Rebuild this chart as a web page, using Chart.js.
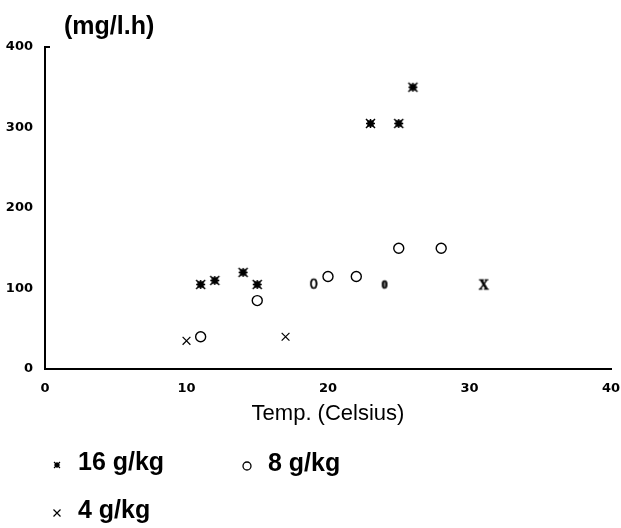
<!DOCTYPE html>
<html>
<head>
<meta charset="utf-8">
<script src="https://cdn.jsdelivr.net/npm/chart.js@4.4.1/dist/chart.umd.min.js"></script>
<style>
  html, body { margin: 0; padding: 0; background: #fff; }
  #wrap { position: relative; width: 621px; height: 528px; }
</style>
</head>
<body>
<div id="wrap"><canvas id="chart"></canvas></div>
<script>
// Rate (mg/l.h) against temperature, one series per moisture level.
const series16 = [
    { x: 11, y: 105 }, { x: 12, y: 110 }, { x: 14, y: 120 }, { x: 15, y: 105 },
    { x: 23, y: 305 }, { x: 25, y: 305 }, { x: 26, y: 350 },
];
const series8 = [
    { x: 11, y: 40 }, { x: 15, y: 85 }, { x: 20, y: 115 },
    { x: 22, y: 115 }, { x: 25, y: 150 }, { x: 28, y: 150 },
];
const series4 = [{ x: 10, y: 35 }, { x: 17, y: 40 }];
// points printed as plain characters in the original
const glyphs8 = [{ x: 19, y: 106 }, { x: 24, y: 105 }];
const glyphs4 = [{ x: 31, y: 105 }];

const seriesLabels = ['16 g/kg', '8 g/kg', '4 g/kg'];
const xTicks = [0, 10, 20, 30, 40];
const yTicks = [0, 100, 200, 300, 400];
const yUnit = '(mg/l.h)';
const xTitle = 'Temp. (Celsius)';

function glyph(ch, font, w, h) {
    const c = document.createElement('canvas');
    c.width = w;
    c.height = h;
    const g = c.getContext('2d');
    g.fillStyle = '#000';
    g.strokeStyle = '#000';
    g.lineWidth = 0.6;
    g.font = font;
    g.textAlign = 'center';
    g.textBaseline = 'middle';
    g.fillText(ch, w / 2, h / 2 + 1);
    g.strokeText(ch, w / 2, h / 2 + 1);
    return c;
}

// heavy asterisk used for the 16 g/kg points
function starMark(r, lw) {
    const s = Math.ceil(r * 2 + lw + 2);
    const c = document.createElement('canvas');
    c.width = s;
    c.height = s;
    const g = c.getContext('2d');
    const m = s / 2;
    g.strokeStyle = '#000';
    g.fillStyle = '#000';
    g.lineWidth = lw;
    g.beginPath();
    g.moveTo(m - r, m); g.lineTo(m + r, m);
    g.moveTo(m, m - r); g.lineTo(m, m + r);
    g.moveTo(m - r, m - r); g.lineTo(m + r, m + r);
    g.moveTo(m - r, m + r); g.lineTo(m + r, m - r);
    g.stroke();
    const q = r * 0.7;
    g.fillRect(m - q, m - q, q * 2, q * 2);
    return c;
}

const starBig = starMark(4.5, 1.5);
const starSmall = starMark(3, 1.1);
const zeroSans = glyph('0', '14px "Liberation Sans", Arial, sans-serif', 14, 18);
const zeroSerif = glyph('0', 'bold 12px "Liberation Serif", "Times New Roman", serif', 14, 18);
const bigX = glyph('X', 'bold 14px "Liberation Serif", "Times New Roman", serif', 16, 18);

function drawMark(ctx, kind, x, y) {
    ctx.save();
    ctx.strokeStyle = '#000';
    ctx.fillStyle = '#fff';
    ctx.beginPath();
    if (kind === 'star') {
        ctx.drawImage(starSmall, x - starSmall.width / 2, y - starSmall.height / 2);
    } else if (kind === 'circle') {
        ctx.lineWidth = 1.3;
        ctx.arc(x, y, 4, 0, Math.PI * 2);
        ctx.fill();
        ctx.stroke();
    } else {
        const d = 3.5;
        ctx.lineWidth = 1.2;
        ctx.moveTo(x - d, y - d); ctx.lineTo(x + d, y + d);
        ctx.moveTo(x - d, y + d); ctx.lineTo(x + d, y - d);
        ctx.stroke();
    }
    ctx.restore();
}

const extras = {
    id: 'extras',
    afterDraw(chart) {
        const { ctx, chartArea } = chart;
        ctx.save();
        // unit label above the y axis
        ctx.fillStyle = '#000';
        ctx.font = 'bold 25px "Liberation Sans", Arial, sans-serif';
        ctx.textAlign = 'left';
        ctx.textBaseline = 'middle';
        ctx.fillText(yUnit, chartArea.left + 19, chartArea.top - 20);

        // small tick at the top of the y axis
        ctx.strokeStyle = '#000';
        ctx.lineWidth = 2;
        ctx.beginPath();
        ctx.moveTo(chartArea.left, chartArea.top);
        ctx.lineTo(chartArea.left + 5, chartArea.top);
        ctx.stroke();

        // legend
        const kinds = ['star', 'circle', 'cross'];
        const spots = [[57, 463], [247, 464], [57, 511]];
        ctx.font = 'bold 25px "Liberation Sans", Arial, sans-serif';
        seriesLabels.forEach((label, i) => {
            const [mx, my] = spots[i];
            drawMark(ctx, kinds[i], mx, my + 2);
            ctx.fillText(label, mx + 21, my);
        });
        ctx.restore();
    },
};

const tickFont = { family: '"DejaVu Sans", sans-serif', size: 13, weight: 'bold' };

new Chart(document.getElementById('chart'), {
    type: 'scatter',
    data: {
        datasets: [
            {
                label: seriesLabels[0],
                data: series16,
                pointStyle: starBig,
            },
            {
                label: seriesLabels[1],
                data: series8,
                pointStyle: 'circle',
                radius: 5,
                hoverRadius: 5,
                borderWidth: 1.4,
                borderColor: '#000',
                backgroundColor: '#fff',
            },
            {
                label: seriesLabels[2],
                data: series4,
                pointStyle: 'crossRot',
                radius: 5.5,
                hoverRadius: 5.5,
                borderWidth: 1.2,
                borderColor: '#000',
            },
            {
                label: seriesLabels[1],
                data: glyphs8,
                pointStyle: (ctx) => (ctx.dataIndex === 0 ? zeroSans : zeroSerif),
            },
            {
                label: seriesLabels[2],
                data: glyphs4,
                pointStyle: bigX,
            },
        ],
    },
    options: {
        responsive: true,
        maintainAspectRatio: false,
        animation: false,
        layout: { padding: { left: 0, right: 10, top: 47, bottom: 97 } },
        plugins: {
            legend: { display: false },
            tooltip: { enabled: false },
        },
        scales: {
            x: {
                type: 'linear',
                min: 0,
                max: 40,
                afterBuildTicks(scale) { scale.ticks = xTicks.map((v) => ({ value: v })); },
                afterFit(scale) {
                    scale.height = 62;
                    scale.paddingLeft = 0;
                    scale.paddingRight = 0;
                },
                grid: { display: false, drawTicks: false },
                border: { color: '#000', width: 2 },
                ticks: { color: '#000', font: tickFont, padding: 12, maxRotation: 0 },
                title: {
                    display: true,
                    text: xTitle,
                    color: '#000',
                    font: { family: '"Liberation Sans", Arial, sans-serif', size: 22 },
                    padding: { top: 4, bottom: 4 },
                },
            },
            y: {
                type: 'linear',
                min: 0,
                max: 400,
                afterBuildTicks(scale) { scale.ticks = yTicks.map((v) => ({ value: v })); },
                afterFit(scale) { scale.width = 45; },
                grid: { display: false, drawTicks: false },
                border: { color: '#000', width: 2 },
                ticks: { color: '#000', font: tickFont, padding: 12 },
            },
        },
    },
    plugins: [extras],
});
</script>
</body>
</html>
